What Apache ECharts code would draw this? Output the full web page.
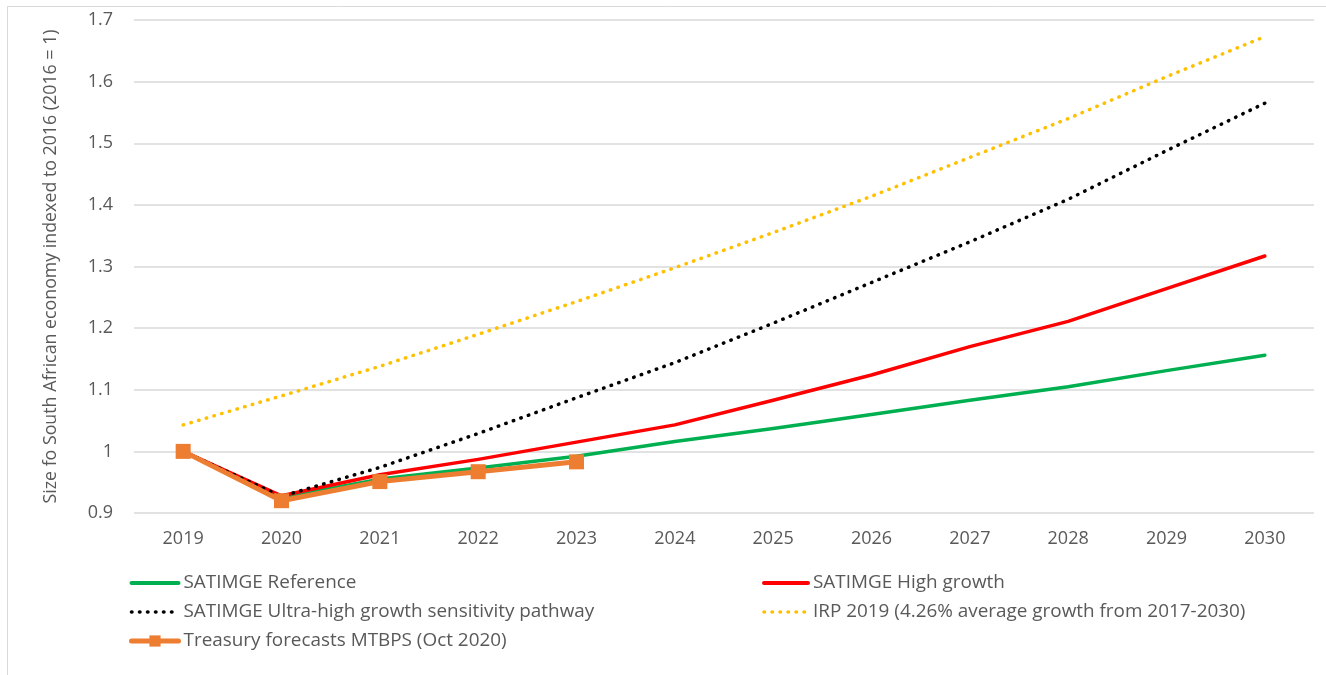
<!DOCTYPE html>
<html>
<head>
<meta charset="utf-8">
<script src="https://cdn.jsdelivr.net/npm/echarts@6/dist/echarts.min.js"></script>
<style>
  html, body { margin: 0; padding: 0; background: #ffffff; }
  #chart { width: 1326px; height: 675px; }
</style>
</head>
<body>
<div id="chart"></div>
<script>
// Years on the category axis
const years = ['2019', '2020', '2021', '2022', '2023', '2024', '2025', '2026', '2027', '2028', '2029', '2030'];

// Size of the South African economy, indexed to 2016 = 1
const satimgeReference = [1.000, 0.925, 0.955, 0.973, 0.992, 1.016, 1.037, 1.060, 1.083, 1.105, 1.131, 1.156];
const satimgeHighGrowth = [1.000, 0.928, 0.962, 0.987, 1.015, 1.043, 1.083, 1.124, 1.170, 1.211, 1.264, 1.317];
const satimgeUltraHigh = [1.000, 0.927, 0.974, 1.029, 1.087, 1.144, 1.208, 1.274, 1.340, 1.409, 1.488, 1.565];
const irp2019 = [1.043, 1.090, 1.138, 1.190, 1.243, 1.298, 1.355, 1.414, 1.477, 1.540, 1.608, 1.673];
const treasuryMtbps = [1.000, 0.920, 0.951, 0.967, 0.983, null, null, null, null, null, null, null];

// Series names as shown in the legend
const names = {
  reference: 'SATIMGE Reference',
  high: 'SATIMGE High growth',
  ultra: 'SATIMGE Ultra-high growth sensitivity pathway',
  irp: 'IRP 2019 (4.26% average growth from 2017-2030)',
  treasury: 'Treasury forecasts MTBPS (Oct 2020)'
};

const FONT = 'Open Sans';
const TEXT = '#595959';

const chart = echarts.init(document.getElementById('chart'), null, { renderer: 'canvas' });

const legendText = { color: TEXT, fontFamily: FONT, fontSize: 18.9, lineHeight: 20 };

// Legend entries for line-only series: hide the marker, keep the line
const lineOnly = (name, width) => ({
  name,
  itemStyle: { opacity: 0, color: 'rgba(0,0,0,0)', borderWidth: 0 },
  lineStyle: { width }
});

chart.setOption({
  backgroundColor: '#ffffff',
  animation: false,
  graphic: [{
    type: 'rect',
    shape: { x: 7.5, y: 6.5, width: 1330, height: 680 },
    style: { fill: 'none', stroke: '#d9d9d9', lineWidth: 1 },
    silent: true
  }],
  grid: { left: 134, right: 12, top: 20, bottom: 162 },
  xAxis: {
    type: 'category',
    data: years,
    boundaryGap: true,
    axisLine: { show: false },
    axisTick: { show: false },
    axisLabel: { color: TEXT, fontFamily: FONT, fontSize: 18, margin: 17 }
  },
  yAxis: {
    type: 'value',
    min: 0.9,
    max: 1.7,
    interval: 0.1,
    name: 'Size fo South African economy indexed to 2016 (2016 = 1)',
    nameLocation: 'middle',
    nameGap: 74,
    nameTextStyle: { color: TEXT, fontFamily: FONT, fontSize: 17.8 },
    axisLine: { show: false },
    axisTick: { show: false },
    axisLabel: {
      color: TEXT, fontFamily: FONT, fontSize: 18, margin: 21,
      formatter: v => String(Math.round(v * 10) / 10)
    },
    splitLine: { lineStyle: { color: '#d9d9d9', width: 1.5 } }
  },
  legend: [
    {
      orient: 'vertical',
      left: 124,
      top: 568,
      itemWidth: 47,
      itemHeight: 14,
      itemGap: 9,
      selectedMode: false,
      textStyle: legendText,
      data: [
        lineOnly(names.reference, 4),
        lineOnly(names.ultra, 3.5),
        { name: names.treasury, lineStyle: { width: 5 } }
      ]
    },
    {
      orient: 'vertical',
      left: 757,
      top: 568,
      itemWidth: 44,
      itemHeight: 14,
      itemGap: 9,
      selectedMode: false,
      textStyle: legendText,
      data: [
        lineOnly(names.high, 4),
        lineOnly(names.irp, 3.5)
      ]
    }
  ],
  series: [
    {
      name: names.reference,
      type: 'line',
      data: satimgeReference,
      symbol: 'none',
      lineStyle: { color: '#00B050', width: 3.5, cap: 'round', join: 'round' },
      itemStyle: { color: '#00B050' },
      z: 2
    },
    {
      name: names.high,
      type: 'line',
      data: satimgeHighGrowth,
      symbol: 'none',
      lineStyle: { color: '#FF0000', width: 3.5, cap: 'round', join: 'round' },
      itemStyle: { color: '#FF0000' },
      z: 3
    },
    {
      name: names.ultra,
      type: 'line',
      data: satimgeUltraHigh,
      symbol: 'none',
      lineStyle: { color: '#000000', width: 3.5, type: [0.5, 7.5], cap: 'round' },
      itemStyle: { color: '#000000' },
      z: 4
    },
    {
      name: names.irp,
      type: 'line',
      data: irp2019,
      symbol: 'none',
      lineStyle: { color: '#FFC000', width: 3.5, type: [0.5, 7.5], cap: 'round' },
      itemStyle: { color: '#FFC000' },
      z: 5
    },
    {
      name: names.treasury,
      type: 'line',
      data: treasuryMtbps,
      symbol: 'rect',
      symbolSize: 15,
      showAllSymbol: true,
      lineStyle: { color: '#ED7D31', width: 5, cap: 'round', join: 'round' },
      itemStyle: { color: '#ED7D31', borderWidth: 0 },
      z: 6
    }
  ]
});
</script>
</body>
</html>
